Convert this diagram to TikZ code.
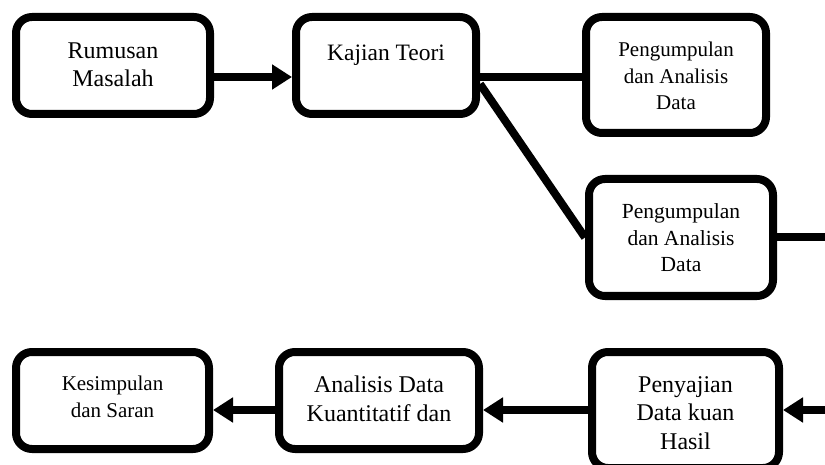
\documentclass[tikz,border=0pt]{standalone}
\usepackage{fontspec}
\setmainfont{Liberation Serif}
\usetikzlibrary{arrows.meta}
\tikzset{
  box/.style={draw=black, line width=8pt, rounded corners=16pt, fill=white, inner sep=0pt},
  lbl/.style={align=center, inner sep=0pt},
  conn/.style={line width=8pt, draw=black},
  arr/.style={conn, -{Triangle[length=20pt,width=24pt]}}
}
\begin{document}
\begin{tikzpicture}[x=1pt,y=-1pt]
\useasboundingbox (0,0) rectangle (825,465);
\clip (0,0) rectangle (825,465);
% boxes
\node[box, minimum width=194pt, minimum height=97pt] (b1) at (113,65.5) {};
\node[box, minimum width=180pt, minimum height=97pt] (b2) at (386,65.5) {};
\node[box, minimum width=180pt, minimum height=116pt] (b3) at (676,75) {};
\node[box, minimum width=184pt, minimum height=117pt] (b4) at (681,237.5) {};
\node[box, minimum width=193pt, minimum height=97pt] (b5) at (112.5,400.5) {};
\node[box, minimum width=200pt, minimum height=97pt] (b6) at (379,400.5) {};
\node[box, minimum width=187pt, minimum height=116pt] (b7) at (685.5,410) {};
% texts
\node[lbl, font=\fontsize{24}{28}\selectfont] (t1) at (113,65) {Rumusan\\Masalah};
\node[lbl, font=\fontsize{23.5}{28}\selectfont] (t2) at (386,55) {Kajian Teori};
\node[lbl, font=\fontsize{21}{26.5}\selectfont] (t3) at (676,76) {Pengumpulan\\dan Analisis\\Data};
\node[lbl, font=\fontsize{21.5}{26.5}\selectfont] (t4) at (681,238) {Pengumpulan\\dan Analisis\\Data};
\node[lbl, font=\fontsize{21}{27}\selectfont] (t5) at (112.5,397) {Kesimpulan\\dan Saran};
\node[lbl, font=\fontsize{24}{29}\selectfont] (t6) at (379,399) {Analisis Data\\Kuantitatif dan};
\node[lbl, font=\fontsize{24}{28.5}\selectfont] (t7) at (685.5,413) {Penyajian\\Data kuan\\Hasil};
% free ends
\coordinate (r1) at (825,237.5);
\coordinate (r2) at (825,410);
% connectors
\draw[arr] (b1.east |- 0,77) -- (b2.west |- 0,77);
\draw[conn] (b2.east |- 0,77) -- (b3.west |- 0,77);
\draw[conn] (b2.east |- 0,84) -- (b4.west);
\draw[conn] (b4.east) -- (r1);
\draw[arr] (r2) -- (b7.east);
\draw[arr] (b7.west) -- (b6.east |- 0,410);
\draw[arr] (b6.west |- 0,410) -- (b5.east |- 0,410);
\end{tikzpicture}
\end{document}
